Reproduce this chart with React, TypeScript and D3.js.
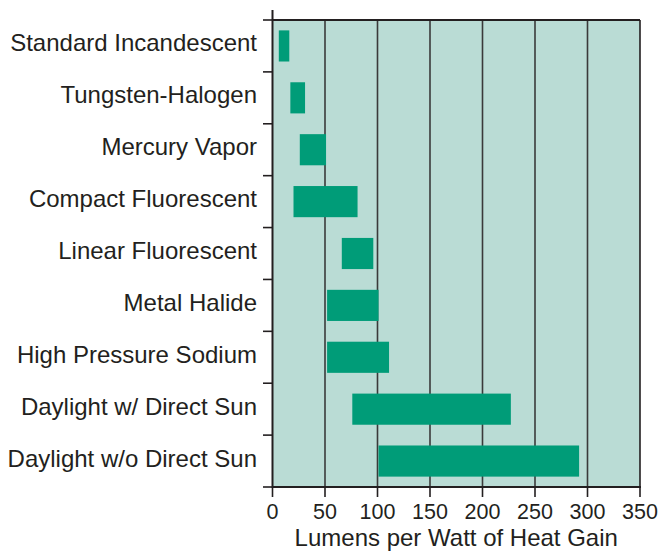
import React from "react";
import * as d3 from "d3";

const categories = [
  "Standard Incandescent",
  "Tungsten-Halogen",
  "Mercury Vapor",
  "Compact Fluorescent",
  "Linear Fluorescent",
  "Metal Halide",
  "High Pressure Sodium",
  "Daylight w/ Direct Sun",
  "Daylight w/o Direct Sun",
];
const lowValues = [6, 17, 26, 20, 66, 52, 52, 76, 101];
const highValues = [16, 31, 51, 81, 96, 101, 111, 227, 292];
const xTicks = [0, 50, 100, 150, 200, 250, 300, 350];
const xTitle = "Lumens per Watt of Heat Gain";

const W = 660;
const H = 558;
const left = 272.5;
const right = 640;
const top = 20;
const bottom = 487;
const font = "'Liberation Sans', Arial, Helvetica, sans-serif";
const ink = "#231f20";

export default function App() {
  const x = d3.scaleLinear().domain([0, 350]).range([left, right]);
  const y = d3
    .scaleBand<string>()
    .domain(categories)
    .range([top, bottom])
    .paddingInner(0.4)
    .paddingOuter(0.2);
  const step = y.step();
  const boundaries = d3.range(categories.length + 1).map((i) => top + i * step);

  return (
    <svg
      width={W}
      height={H}
      style={{ position: "absolute", left: 0, top: 0, background: "#fff" }}
    >
      <rect x={left} y={top} width={right - left} height={bottom - top} fill="#badcd5" />
      {xTicks.slice(1, -1).map((t) => (
        <line key={"g" + t} x1={x(t)} x2={x(t)} y1={top} y2={bottom} stroke="#3a3a3a" strokeWidth={1.6} />
      ))}
      {categories.map((c, i) => (
        <rect
          key={c}
          x={x(lowValues[i])}
          y={y(c)!}
          width={x(highValues[i]) - x(lowValues[i])}
          height={y.bandwidth()}
          fill="#009c78"
        />
      ))}
      <line x1={left} x2={right} y1={top} y2={top} stroke={ink} strokeWidth={2} />
      <line x1={right} x2={right} y1={top} y2={bottom} stroke={ink} strokeWidth={1.6} />
      <line x1={left} x2={right + 1} y1={bottom} y2={bottom} stroke={ink} strokeWidth={2} />
      <line x1={left} x2={left} y1={10} y2={bottom + 1} stroke={ink} strokeWidth={2} />
      {boundaries.map((b, i) => (
        <line key={"yt" + i} x1={263} x2={left} y1={b} y2={b} stroke={ink} strokeWidth={1.6} />
      ))}
      {xTicks.map((t) => (
        <g key={"xt" + t}>
          <line x1={x(t)} x2={x(t)} y1={bottom} y2={bottom + 10} stroke={ink} strokeWidth={1.6} />
          <text
            x={x(t)}
            y={519}
            textAnchor="middle"
            fontFamily={font}
            fontSize={21.5}
            fill={ink}
          >
            {t}
          </text>
        </g>
      ))}
      {categories.map((c) => (
        <text
          key={"l" + c}
          x={257}
          y={y(c)! + y.bandwidth() / 2 + 5.5}
          textAnchor="end"
          fontFamily={font}
          fontSize={24}
          fill={ink}
        >
          {c}
        </text>
      ))}
      <text
        x={(left + right) / 2}
        y={546}
        textAnchor="middle"
        fontFamily={font}
        fontSize={24}
        fill={ink}
      >
        {xTitle}
      </text>
    </svg>
  );
}
